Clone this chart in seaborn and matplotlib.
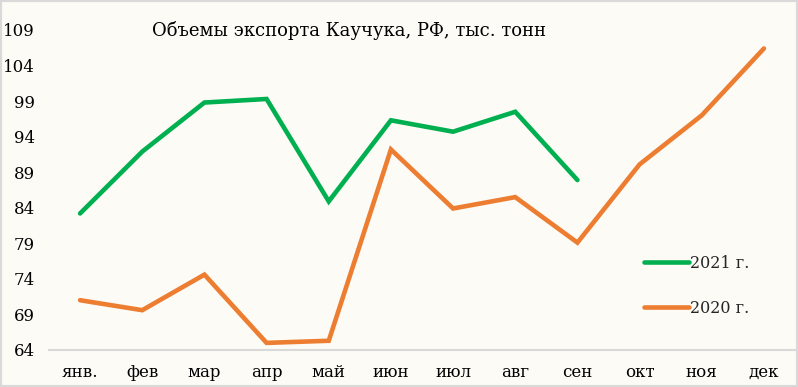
import matplotlib
matplotlib.use("Agg")
import matplotlib.pyplot as plt
import matplotlib.patches as patches
import pandas as pd
import seaborn as sns

месяцы = ["янв.", "фев", "мар", "апр", "май", "июн", "июл", "авг", "сен", "окт", "ноя", "дек"]
экспорт_2021 = [83.2, 91.9, 98.8, 99.3, 84.9, 96.3, 94.7, 97.5, 87.9]
экспорт_2020 = [71.0, 69.6, 74.6, 65.0, 65.3, 92.2, 83.9, 85.5, 79.1, 90.1, 97.0, 106.4]
серии = ["2021 г.", "2020 г."]
цвета = ["#00B050", "#ED7D31"]

данные = pd.concat([
    pd.DataFrame({"месяц": месяцы[:len(экспорт_2021)], "объем": экспорт_2021, "год": серии[0]}),
    pd.DataFrame({"месяц": месяцы, "объем": экспорт_2020, "год": серии[1]}),
])
данные["поз"] = данные["месяц"].map({m: i for i, m in enumerate(месяцы)})

sns.set_theme(style="white")
plt.rcParams['font.family'] = ['DejaVu Serif']

фон = "#fcfbf6"
fig = plt.figure(figsize=(7.98, 3.87), dpi=100, facecolor=фон)
ax = fig.add_axes([49 / 798, 37 / 387, 746 / 798, 320 / 387])
ax.set_facecolor(фон)

sns.lineplot(data=данные, x="поз", y="объем", hue="год", hue_order=серии,
             palette=цвета, linewidth=3.3, ax=ax, sort=False,
             solid_capstyle="round", solid_joinstyle="miter")

ax.set_xlim(-0.5, 11.5)
ax.set_ylim(64, 109)
ax.set_yticks(range(64, 110, 5))
ax.set_xticks(range(len(месяцы)))
ax.set_xticklabels(месяцы)
ax.tick_params(axis='both', length=0, labelsize=12, colors="#000000")
ax.tick_params(axis='x', pad=10)
ax.tick_params(axis='y', pad=10)
ax.set_xlabel("")
ax.set_ylabel("")
for s in ["top", "right", "left"]:
    ax.spines[s].set_visible(False)
ax.spines["bottom"].set_color("#d9d9d9")
ax.spines["bottom"].set_linewidth(1.5)

leg = ax.legend(loc="upper left", bbox_to_anchor=(644 / 798, 1 - 255 / 387),
                bbox_transform=fig.transFigure, frameon=False, fontsize=11.5,
                handlelength=2.8, handletextpad=0.1, labelspacing=1.75,
                borderpad=0, borderaxespad=0)
for h in leg.get_lines():
    h.set_solid_capstyle("round")

fig.text(349 / 798, 1 - 30 / 387, "Объемы экспорта Каучука, РФ, тыс. тонн",
         ha="center", va="center", fontsize=13, color="#000000")

fig.patches.append(patches.Rectangle((0, 0), 1, 1, transform=fig.transFigure,
                                     fill=False, edgecolor="#d9d9d9", linewidth=3))

fig.savefig("out.png", dpi=100, facecolor=фон)
